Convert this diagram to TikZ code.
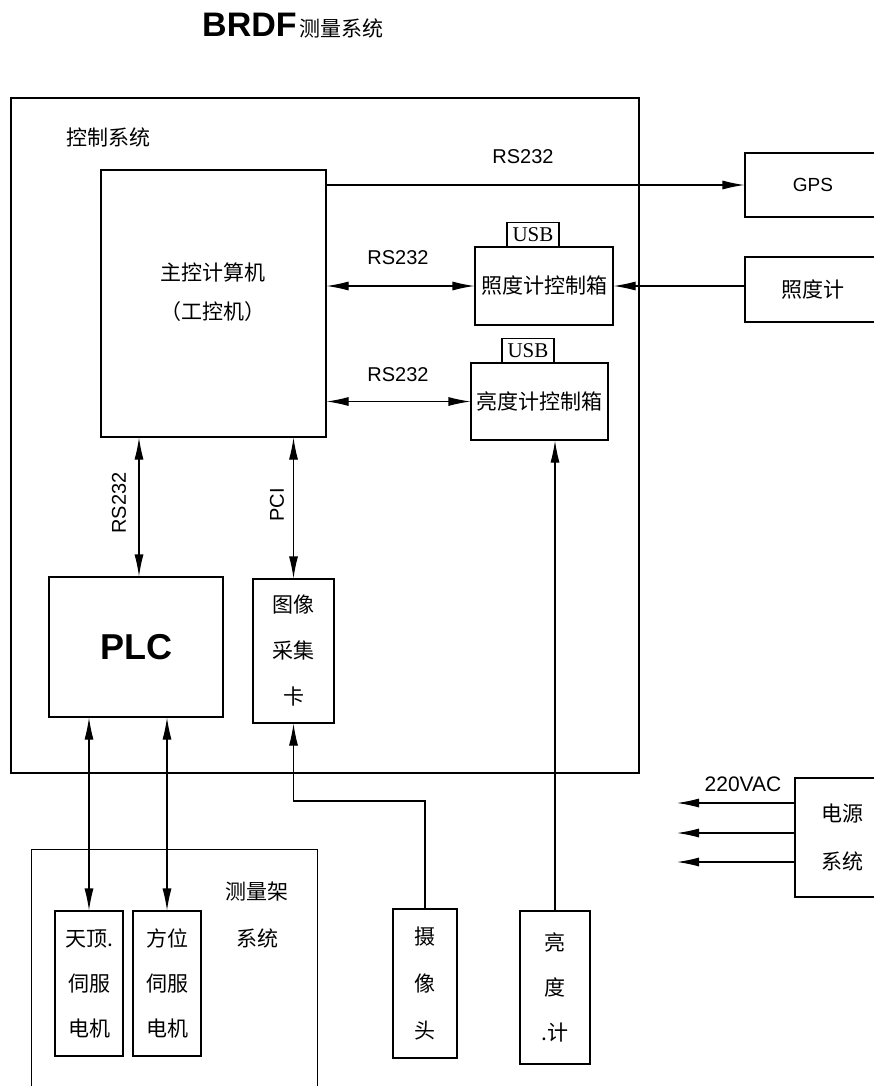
\documentclass[tikz,border=0pt]{standalone}
\usepackage{fontspec}
\setmainfont{Liberation Sans}
\newfontfamily\cjk{Noto Sans CJK SC}
\newfontfamily\usbfont{Liberation Serif}
\usetikzlibrary{arrows.meta,calc}
\tikzset{
  box/.style={draw, line width=1.1pt, inner sep=0pt, align=center,
              font=\cjk\fontsize{21}{46}\selectfont},
  frame/.style={draw, line width=1.1pt, inner sep=0pt},
  usbbox/.style={draw, line width=1.1pt, inner sep=0pt, minimum width=52pt,
              minimum height=24pt, font=\usbfont\fontsize{21}{21}\selectfont},
  lab/.style={inner sep=0pt, font=\fontsize{20}{20}\selectfont},
  cjklab/.style={inner sep=0pt, align=center, font=\cjk\fontsize{21}{46}\selectfont},
  tip/.tip={Latex[length=22pt,width=9pt]},
  arr/.style={line width=1.1pt, -tip},
  darr/.style={line width=1.1pt, tip-tip}
}
\begin{document}
\begin{tikzpicture}[x=1pt,y=-1pt]
\path[use as bounding box] (0,0) rectangle (874,1086);
\clip (0,0) rectangle (874,1086);
\fill[white] (0,0) rectangle (874,1086);

% title
\node[inner sep=0pt, anchor=base west] (title) at (202,37)
  {\fontsize{34}{34}\selectfont\bfseries BRDF\hspace{3pt}\cjk\mdseries\fontsize{21}{21}\selectfont 测量系统};

% control system frame
\node[frame, minimum width=628pt, minimum height=675pt] (ctrl) at (325,435.5) {};
\node[cjklab] (ctrllab) at (108,137) {控制系统};

% main computer
\node[box, minimum width=225pt, minimum height=267pt] (main) at (213.5,303.5) {};
\node[cjklab, font=\cjk\fontsize{21}{39}\selectfont] (mainlab) at (213,292) {主控计算机\\（工控机）};

% GPS and illuminance meter (cut at right border)
\node[box, minimum width=136pt, minimum height=64pt, font=\fontsize{19}{19}\selectfont] (gps) at (813,185) {GPS};
\node[box, minimum width=136pt, minimum height=65pt] (zdj) at (813,289.5) {照度计};

% control boxes
\node[box, minimum width=138pt, minimum height=78pt] (zdbox) at (544,286) {照度计控制箱};
\node[usbbox, anchor=south] (usb1) at (533,247) {USB};
\node[box, minimum width=137pt, minimum height=77pt] (ldbox) at (539.5,401.5) {亮度计控制箱};
\node[usbbox, anchor=south] (usb2) at (528,363) {USB};

% PLC and frame grabber
\node[box, minimum width=174pt, minimum height=140pt, font=\fontsize{36}{36}\selectfont\bfseries] (plc) at (136,647) {PLC};
\node[box, minimum width=81pt, minimum height=144pt] (img) at (293.5,651) {图像\\采集\\卡};

% measuring rack frame
\node[frame, anchor=north west, minimum width=286pt, minimum height=300pt] (rack) at (31,849) {};
\node[cjklab, font=\cjk\fontsize{21}{47}\selectfont] (racklab) at (257,915) {测量架\\系统};
\node[box, minimum width=68pt, minimum height=145pt, font=\cjk\fontsize{21}{45}\selectfont] (td) at (89,983.5) {天顶.\\伺服\\电机};
\node[box, minimum width=68pt, minimum height=145pt, font=\cjk\fontsize{21}{45}\selectfont] (fw) at (167,983.5) {方位\\伺服\\电机};

% camera and luminance meter
\node[box, minimum width=64pt, minimum height=149pt, font=\cjk\fontsize{21}{47}\selectfont] (cam) at (425,983.5) {摄\\像\\头};
\node[box, minimum width=70pt, minimum height=153pt, font=\cjk\fontsize{21}{45}\selectfont] (ldj) at (555,987.5) {亮\\度\\.计};

% power system
\node[box, minimum width=95pt, minimum height=119pt, font=\cjk\fontsize{21}{48}\selectfont] (pwr) at (842.5,837.5) {电源\\系统};

% connectors
\draw[arr] (gps.west -| main.east) -- (gps.west);
\node[lab] (l1) at (523,157) {RS232};

\draw[darr] (zdbox.west -| main.east) -- (zdbox.west);
\node[lab] (l2) at (398,258) {RS232};
\draw[arr] (zdbox.east -| zdj.west) -- (zdbox.east);

\draw[darr] (ldbox.west -| main.east) -- (ldbox.west);
\node[lab] (l3) at (398,375) {RS232};

\coordinate (cx1) at (139,0);
\draw[darr] (main.south -| cx1) -- (plc.north -| cx1);
\node[lab, rotate=90] (l4) at (119,503) {RS232};

\draw[darr] (main.south -| img.north) -- (img.north);
\node[lab, rotate=90] (l5) at (277,505) {PCI};

\draw[darr] (plc.south -| td.north) -- (td.north);
\draw[darr] (plc.south -| fw.north) -- (fw.north);

\coordinate (bend) at (0,801);
\draw[arr] (cam.north) -- (cam.north |- bend) -| (img.south);

\draw[arr] (ldj.north) -- (ldbox.south -| ldj.north);

\coordinate (t1) at (677,803);
\coordinate (t2) at (677,833);
\coordinate (t3) at (677,862);
\draw[arr] (pwr.west |- t1) -- (t1);
\draw[arr] (pwr.west |- t2) -- (t2);
\draw[arr] (pwr.west |- t3) -- (t3);
\node[lab, font=\fontsize{21}{21}\selectfont] (l6) at (743,784) {220VAC};
\end{tikzpicture}
\end{document}
